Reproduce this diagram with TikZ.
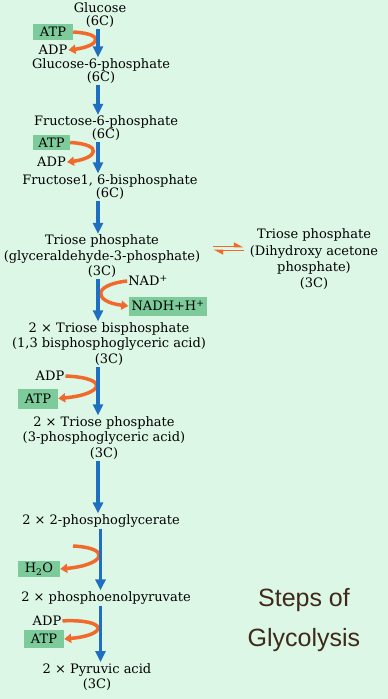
\documentclass[tikz,border=0pt]{standalone}
\usepackage{fontspec}
\setmainfont{DejaVu Serif}
\newfontfamily\titlefont{Liberation Sans}
\usetikzlibrary{arrows.meta, positioning}
\definecolor{bggreen}{HTML}{DCF7E6}
\definecolor{boxgreen}{HTML}{7DCB9A}
\definecolor{glyblue}{HTML}{1E6FC2}
\definecolor{glyorange}{HTML}{F26A2B}
\definecolor{titlebrown}{HTML}{3F2A1A}

\begin{document}
\begin{tikzpicture}[
      x=1pt, y=-1pt,
      compound/.style={align=center, inner sep=1pt, font=\fontsize{13}{15.5}\selectfont},
      tight/.style={font=\fontsize{13}{13}\selectfont},
      side_label/.style={inner sep=1pt, font=\fontsize{13}{15}\selectfont},
      cofactor_box/.style={rectangle, fill=boxgreen, minimum height=16pt, minimum width=40pt, inner xsep=3pt, inner ysep=1pt, font=\fontsize{13}{15}\selectfont},
      main_line/.style={draw=glyblue, line width=3.5pt, -{Triangle[width=10pt,length=11pt]}},
      side_line/.style={draw=glyorange, line width=3.5pt, -{Triangle[width=9pt,length=7pt]}},
      eq_line/.style={draw=glyorange, line width=1.8pt, -{Triangle[left,width=8pt,length=8pt]}}
  ]

  \fill [bggreen] (0,0) rectangle (388,699);
  \useasboundingbox (0,0) rectangle (388,699);

  \node [compound, tight] (glc) at (100,15.5) {Glucose\\(6C)};
  \node [compound, tight] (g6p) at (101,71) {Glucose-6-phosphate\\(6C)};
  \node [compound, tight] (f6p) at (106,128.5) {Fructose-6-phosphate\\(6C)};
  \node [compound, tight] (f16bp) at (110,187) {Fructose1, 6-bisphosphate\\(6C)};
  \node [compound] (gap) at (102,256.5) {Triose phosphate\\(glyceraldehyde-3-phosphate)\\(3C)};
  \node [compound, font=\fontsize{13}{16.3}\selectfont] (dhap) at (314,259.5) {Triose phosphate\\(Dihydroxy acetone\\phosphate)\\(3C)};
  \node [compound] (bpg) at (109,344) {2 × Triose bisphosphate\\(1,3 bisphosphoglyceric acid)\\(3C)};
  \node [compound] (pga3) at (104,438) {2 × Triose phosphate\\(3-phosphoglyceric acid)\\(3C)};
  \node [compound] (pga2) at (101,521) {2 × 2-phosphoglycerate};
  \node [compound] (pep) at (106,598) {2 × phosphoenolpyruvate};
  \node [compound] (pyr) at (97,677) {2 × Pyruvic acid\\(3C)};
  \node [align=center, font=\titlefont\fontsize{25}{40}\selectfont, text=titlebrown] (title) at (304,620) {Steps of\\Glycolysis};

  \node [cofactor_box] (atp1) at (53,32) {ATP};
  \node [side_label, below=4pt of atp1] (adp1) {ADP};
  \node [cofactor_box, minimum width=37pt, minimum height=15pt] (atp2) at (51.5,142.5) {ATP};
  \node [side_label, below=6pt of atp2] (adp2) {ADP};
  \node [side_label] (nad) at (148,281) {NAD\textsuperscript{+}};
  \node [cofactor_box, minimum height=19pt] (nadh) at (168,306) {NADH+H\textsuperscript{+}};
  \node [side_label] (adp3) at (50,376) {ADP};
  \node [cofactor_box, minimum height=20pt] (atp3) at (38,398.5) {ATP};
  \node [cofactor_box, minimum width=42pt] (h2o) at (39,569) {H\textsubscript{2}O};
  \node [cofactor_box, minimum height=18pt] (atp4) at (44,639) {ATP};
  \node [side_label, above=3pt of atp4, xshift=3pt] (adp4) {ADP};

  \coordinate (spine) at (98,0);
  \coordinate (h2o_in) at (73,546);

  \path [side_line] (atp1.east) .. controls +(34,2) and +(30,-4) .. (adp1.east);
  \path [side_line] (atp2.east) .. controls +(34,2) and +(30,-4) .. (adp2.east);
  \path [side_line] (nad.west) .. controls +(-36,4) and +(-34,-4) .. (nadh.west);
  \path [side_line] (adp3.east) .. controls +(46,2) and +(44,-4) .. (atp3.east);
  \path [side_line] (h2o_in) .. controls +(40,2) and +(44,-4) .. (h2o.east);
  \path [side_line] (adp4.east) .. controls +(46,-2) and +(44,-4) .. (atp4.east);

  \path [main_line] (glc.south -| spine) -- (g6p.north -| spine);
  \path [main_line] (g6p.south -| spine) -- (f6p.north -| spine);
  \path [main_line] (f6p.south -| spine) -- (f16bp.north -| spine);
  \path [main_line] (f16bp.south -| spine) -- (gap.north -| spine);
  \path [main_line] (gap.south -| spine) -- (bpg.north -| spine);
  \path [main_line] (bpg.south -| spine) -- (pga3.north -| spine);
  \path [main_line] (pga3.south -| spine) -- (pga2.north -| spine);
  \path [main_line] ([xshift=2.5pt]pga2.south -| spine) -- ([xshift=2.5pt]pep.north -| spine);
  \path [main_line] ([xshift=2.5pt]pep.south -| spine) -- ([xshift=2.5pt]pyr.north -| spine);

  \path [eq_line, shorten <=12pt, shorten >=5pt] ([yshift=10pt]gap.east) -- ([yshift=10pt]gap.east -| dhap.west);
  \path [eq_line, shorten <=5pt, shorten >=12pt] ([yshift=6pt]gap.east -| dhap.west) -- ([yshift=6pt]gap.east);

\end{tikzpicture}
\end{document}
